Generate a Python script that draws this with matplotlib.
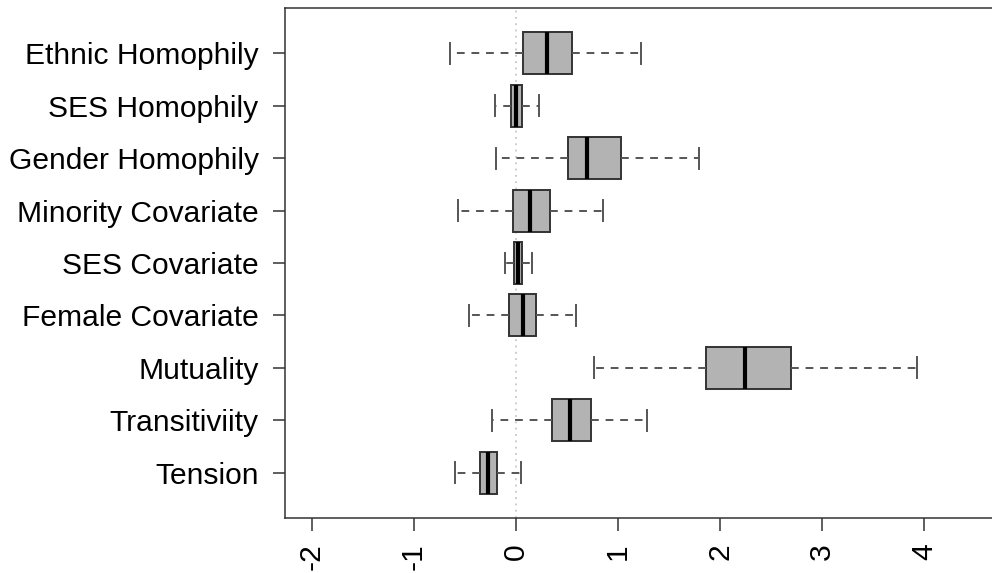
import matplotlib
matplotlib.use("Agg")
import matplotlib.pyplot as plt

plt.rcParams["font.family"] = ["Liberation Sans", "DejaVu Sans"]

# top to bottom, as in the figure
labels = ["Ethnic Homophily", "SES Homophily", "Gender Homophily", "Minority Covariate",
          "SES Covariate", "Female Covariate", "Mutuality", "Transitiviity", "Tension"]
whislo = [-0.64, -0.20, -0.19, -0.57, -0.11, -0.46, 0.77, -0.23, -0.60]
q1     = [0.07, -0.05, 0.51, -0.03, -0.02, -0.07, 1.86, 0.35, -0.35]
med    = [0.31, 0.00, 0.70, 0.14, 0.02, 0.07, 2.24, 0.53, -0.27]
q3     = [0.55, 0.06, 1.03, 0.33, 0.06, 0.20, 2.69, 0.74, -0.18]
whishi = [1.23, 0.23, 1.79, 0.85, 0.16, 0.59, 3.93, 1.28, 0.05]
xticks = [-2, -1, 0, 1, 2, 3, 4]

stats = [dict(label=l, whislo=a, q1=b, med=c, q3=d, whishi=e, fliers=[])
         for l, a, b, c, d, e in zip(labels, whislo, q1, med, q3, whishi)]
positions = list(range(len(labels), 0, -1))

fig = plt.figure(figsize=(9.92, 5.73), dpi=100)
ax = fig.add_axes([285 / 992, 1 - 518 / 573, 717 / 992, 510 / 573])

ax.axvline(0, color="#c8c8c8", lw=1.3, ls=(0, (1, 2.5)), zorder=0)

ax.bxp(stats, positions=positions, orientation="horizontal", widths=0.8,
       patch_artist=True, showfliers=False,
       boxprops=dict(facecolor="#b3b3b3", edgecolor="#333333", lw=1.4),
       medianprops=dict(color="black", lw=3.0, solid_capstyle="butt"),
       whiskerprops=dict(color="#555555", lw=1.4, ls=(0, (4, 3.5))),
       capprops=dict(color="#555555", lw=1.4),
       capwidths=0.4)

ax.set_xlim(-2.26, 4.76)
ax.set_ylim(0.14, 9.86)
ax.set_xticks(xticks)
ax.set_xticklabels([str(t) for t in xticks], rotation=90)
ax.set_yticks(positions)
ax.set_yticklabels(labels)
ax.tick_params(axis="both", labelsize=21.6, length=9, width=1.1, color="#333333", pad=10)
ax.tick_params(axis="x", pad=9)
for s in ax.spines.values():
    s.set_linewidth(1.1)
    s.set_color("#333333")

fig.savefig("out.png", dpi=100)
